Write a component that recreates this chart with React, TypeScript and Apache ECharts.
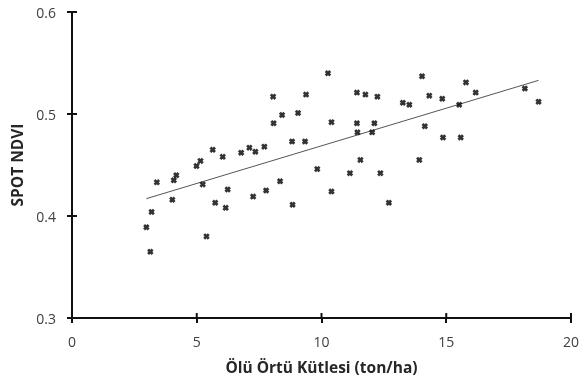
import React, { useEffect, useRef } from "react";
import * as echarts from "echarts";

const massX: number[] = [
  8.06, 9.38, 8.42, 9.06, 8.08, 8.82, 9.34, 3.40, 4.08, 4.18,
  4.99, 5.15, 5.64, 6.04, 6.78, 7.11, 7.35, 7.71, 5.24, 6.24,
  8.34, 4.02, 5.74, 6.16, 7.26, 7.78, 8.84, 3.19, 2.98, 5.39,
  3.14, 10.26, 14.03, 11.42, 11.76, 12.24, 15.79, 16.18, 14.32, 14.84,
  13.26, 13.52, 15.52, 18.15, 18.70, 10.40, 11.42, 12.12, 11.44, 12.03,
  14.14, 14.87, 15.58, 9.83, 11.56, 13.92, 11.14, 12.36, 10.40, 12.70,
];
const ndviY: number[] = [
  0.517, 0.519, 0.499, 0.501, 0.491, 0.473, 0.473, 0.433, 0.435, 0.440,
  0.449, 0.454, 0.465, 0.458, 0.462, 0.467, 0.463, 0.468, 0.431, 0.426,
  0.434, 0.416, 0.413, 0.408, 0.419, 0.425, 0.411, 0.404, 0.389, 0.380,
  0.365, 0.540, 0.537, 0.521, 0.519, 0.517, 0.531, 0.521, 0.518, 0.515,
  0.511, 0.509, 0.509, 0.525, 0.512, 0.492, 0.491, 0.491, 0.482, 0.482,
  0.488, 0.477, 0.477, 0.446, 0.455, 0.455, 0.442, 0.442, 0.424, 0.413,
];
const trendX: number[] = [2.98, 18.7];
const trendY: number[] = [0.417, 0.533];

const xTicks = [0, 5, 10, 15, 20];
const yTicks = [0.3, 0.4, 0.5, 0.6];

const X_SYMBOL =
  "path://M0,3 L3,0 L5,2 L7,0 L10,3 L8,5 L10,7 L7,10 L5,8 L3,10 L0,7 L2,5 Z";

export default function App() {
  const ref = useRef<HTMLDivElement>(null);
  useEffect(() => {
    if (!ref.current) return;
    const chart = echarts.init(ref.current, undefined, { renderer: "svg" });
    const font = "'Open Sans', sans-serif";
    const labelStyle = { color: "#404040", fontSize: 14, fontFamily: font };
    const nameStyle = { color: "#262626", fontSize: 15.5, fontWeight: "bold", fontFamily: font };
    chart.setOption({
      animation: false,
      grid: { left: 72, right: 10, top: 12, bottom: 69 },
      xAxis: {
        type: "value",
        min: xTicks[0],
        max: xTicks[xTicks.length - 1],
        interval: 5,
        name: "Ölü Örtü Kütlesi (ton/ha)",
        nameLocation: "middle",
        nameGap: 41,
        nameTextStyle: nameStyle,
        axisLine: { show: true, lineStyle: { color: "#111", width: 2 } },
        axisTick: { show: true, length: 5, lineStyle: { color: "#111", width: 2 } },
        axisLabel: { ...labelStyle, margin: 16 },
        splitLine: { lineStyle: { color: "rgba(255,255,255,0)" } },
      },
      yAxis: {
        type: "value",
        min: yTicks[0],
        max: yTicks[yTicks.length - 1],
        interval: 0.1,
        name: "SPOT NDVI",
        nameLocation: "middle",
        nameGap: 46,
        nameTextStyle: nameStyle,
        axisLine: { show: true, lineStyle: { color: "#111", width: 2 } },
        axisTick: { show: true, length: 5, lineStyle: { color: "#111", width: 2 } },
        axisLabel: { ...labelStyle, margin: 16, formatter: (v: number) => v.toFixed(1) },
        splitLine: { lineStyle: { color: "rgba(255,255,255,0)" } },
      },
      series: [
        {
          type: "line",
          data: trendX.map((x, i) => [x, trendY[i]]),
          showSymbol: false,
          symbol: "none",
          lineStyle: { color: "#555", width: 1 },
          silent: true,
          z: 1,
        },
        {
          type: "scatter",
          data: massX.map((x, i) => [x, ndviY[i]]),
          symbol: X_SYMBOL,
          symbolSize: 6.5,
          itemStyle: { color: "#000" },
          z: 2,
        },
      ],
    });

    // inner halves of the crossing ticks, placed through the chart's scales
    const xMin = xTicks[0];
    const yMin = yTicks[0];
    const stroke = { stroke: "#111", lineWidth: 2 };
    const els: any[] = [];
    xTicks.forEach((t) => {
      const p = chart.convertToPixel({ gridIndex: 0 }, [t, yMin]) as number[];
      if (p) els.push({ type: "line", shape: { x1: p[0], y1: p[1] - 5, x2: p[0], y2: p[1] }, style: stroke, silent: true, z: 10 });
    });
    yTicks.forEach((t) => {
      const p = chart.convertToPixel({ gridIndex: 0 }, [xMin, t]) as number[];
      if (p) els.push({ type: "line", shape: { x1: p[0], y1: p[1], x2: p[0] + 5, y2: p[1] }, style: stroke, silent: true, z: 10 });
    });
    chart.setOption({ graphic: els });

    return () => chart.dispose();
  }, []);
  return <div ref={ref} style={{ position: "fixed", left: 0, top: 0, width: 582, height: 387 }} />;
}
